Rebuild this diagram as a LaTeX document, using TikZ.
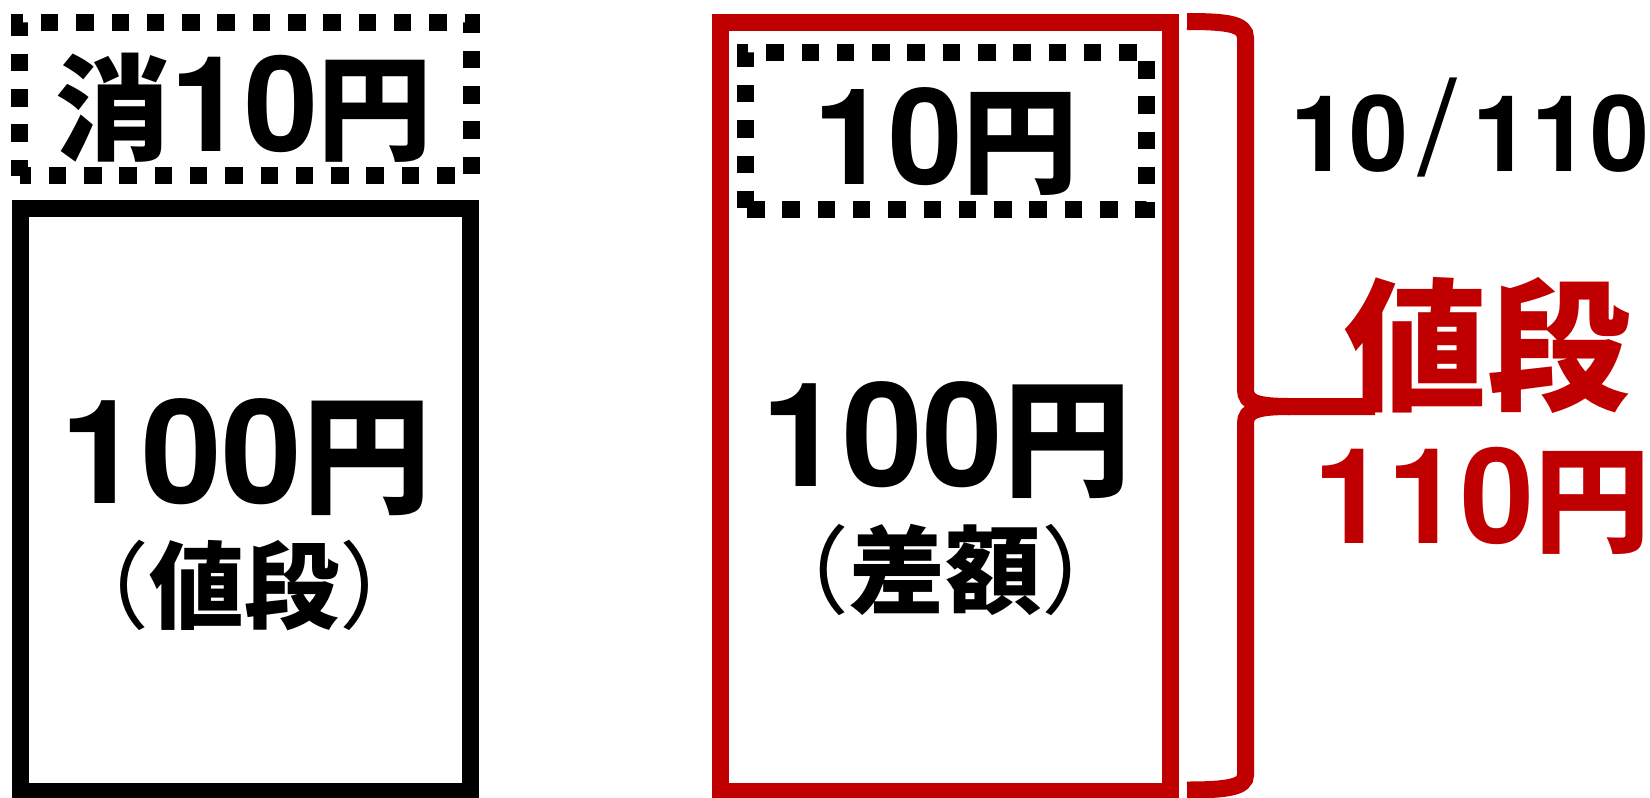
\documentclass[tikz,border=0pt]{standalone}
\usepackage{fontspec}
\setmainfont{TeX Gyre Heros}
\newfontfamily\jp{Noto Sans CJK JP}
\definecolor{pricered}{RGB}{192,0,0}
\newcommand{\dg}[2]{{\fontsize{#1pt}{#1pt}\selectfont\bfseries #2}}
\newcommand{\kj}[2]{{\fontsize{#1pt}{#1pt}\selectfont\jp\bfseries #2}}
\newcommand{\lp}{{\mdseries （}}
\newcommand{\rp}{{\mdseries ）}}
\tikzset{
  frame/.style={line width=8.5pt},
  dotbox/.style={line width=8.5pt, dash pattern=on 8.75pt off 8.9pt},
  lbl/.style={inner sep=0pt, outer sep=0pt},
}
\begin{document}
\begin{tikzpicture}[x=0.5pt,y=-0.5pt]
\useasboundingbox (0,0) rectangle (1650,798);
% left column
\draw[dotbox, dash phase=0.8pt] (19.5,175.5) -- (19.5,22) -- (471,22) -- (471,175.5) -- (19.5,175.5);
\node[lbl] (tax) at (244,107.5) {\kj{57.5}{消}\dg{66.5}{10}\kj{57.5}{円}};
\draw[frame] (20.5,208.5) rectangle (470.5,791);
\node[lbl] (priceL) at (246,457) {\dg{72.5}{100}\kj{64.5}{円}};
\node[lbl] (priceLsub) at (244.5,585) {\kj{47.5}{\lp 値段\rp}};
% right column
\draw[frame, pricered] (720.5,22.5) rectangle (1170.5,791);
\draw[dotbox, dash phase=17.3pt] (745.5,209) -- (745.5,52.5) -- (1146,52.5) -- (1146,209) -- (745.5,209);
\node[lbl] (taxR) at (946,141) {\dg{67}{10}\kj{58}{円}};
\node[lbl] (priceR) at (946.5,440.5) {\dg{72.5}{100}\kj{64}{円}};
\node[lbl] (priceRsub) at (945,569.5) {\kj{48}{\lp 差額\rp}};
% brace
\draw[frame, pricered] (1187,21.5) .. controls (1228,21.5) and (1245.5,24) .. (1245.5,38)
  -- (1245.5,390) .. controls (1245.5,403) and (1258,406.5) .. (1290,406.5) -- (1375,406.5);
\draw[frame, pricered] (1290,406.5) .. controls (1258,406.5) and (1245.5,410) .. (1245.5,423)
  -- (1245.5,775) .. controls (1245.5,787) and (1228,790) .. (1187,790);
\node[lbl] (ratio) at (1470,127.5) {\dg{53}{10\kern5pt\raisebox{-1.5pt}{\scalebox{1.3}[1.25]{\mdseries /}}\kern8pt110}};
\node[lbl, text=pricered] (total) at (1487,345) {\kj{71.5}{値段}};
\node[lbl, text=pricered] (totalv) at (1482,500.5) {\dg{66.5}{110}\kj{58}{円}};
\end{tikzpicture}
\end{document}
